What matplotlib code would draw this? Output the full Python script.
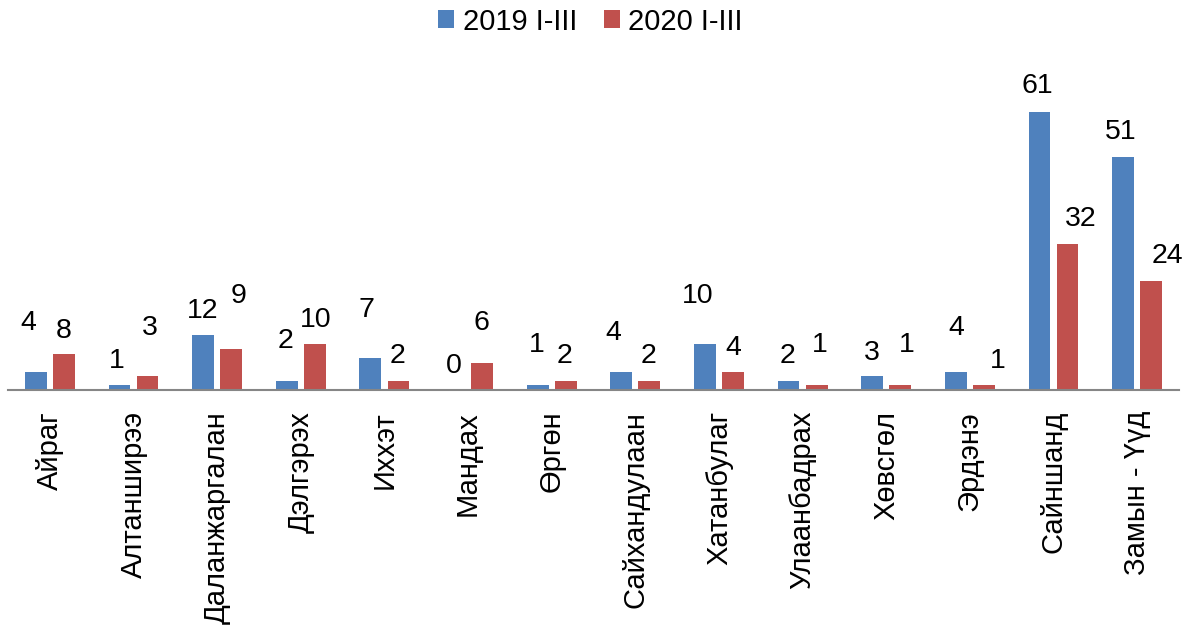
import matplotlib
matplotlib.use("Agg")
import matplotlib.pyplot as plt
import numpy as np

categories = ["Айраг", "Алтанширээ", "Даланжаргалан", "Дэлгэрэх", "Иххэт", "Мандах",
              "Өргөн", "Сайхандулаан", "Хатанбулаг", "Улаанбадрах", "Хөвсгөл", "Эрдэнэ",
              "Сайншанд", "Замын - Үүд"]
series_names = ["2019 I-III", "2020 I-III"]
values_2019 = [4, 1, 12, 2, 7, 0, 1, 4, 10, 2, 3, 4, 61, 51]
values_2020 = [8, 3, 9, 10, 2, 6, 2, 2, 4, 1, 1, 1, 32, 24]

# label offsets (pixels) relative to bar top centre, as placed in the original
dx_2019 = [-7, -3, 0, -1, -4, 0, -1, -8, -7, -1, 0, 0, -2, -2]
dy_2019 = [42, 17, 17, 33, 41, 17, 33, 32, 41, 18, 16, 37, 19, 18]
dx_2020 = [0, 2, 7, 1, -1, -1, -1, -1, 0, 3, 6, 14, 13, 16]
dy_2020 = [16, 41, 46, 17, 18, 33, 18, 18, 17, 33, 33, 17, 18, 18]

plt.rcParams['font.family'] = ['Liberation Sans', 'DejaVu Sans']

W, H = 1198, 625
fig = plt.figure(figsize=(W / 100, H / 100), dpi=100)
left_px, right_px, base_px, top_px = 8, 1179, 390, 60
ax = fig.add_axes([left_px / W, 1 - base_px / H, (right_px - left_px) / W, (base_px - top_px) / H])

px_per_unit = 4.56
ax.set_ylim(0, (base_px - top_px) / px_per_unit)
n = len(categories)
ax.set_xlim(-0.5, n - 0.5)

x = np.arange(n)
off = 0.168
bw = 0.26
c1, c2 = "#4F81BD", "#C0504D"
b1 = ax.bar(x - off, values_2019, bw, color=c1, label=series_names[0])
b2 = ax.bar(x + off, values_2020, bw, color=c2, label=series_names[1])

for i in range(n):
    ax.annotate(str(values_2019[i]), (x[i] - off, values_2019[i]),
                xytext=(dx_2019[i], dy_2019[i]), textcoords='offset pixels',
                ha='center', va='baseline', fontsize=20.5, color='black')
    ax.annotate(str(values_2020[i]), (x[i] + off, values_2020[i]),
                xytext=(dx_2020[i], dy_2020[i]), textcoords='offset pixels',
                ha='center', va='baseline', fontsize=20.5, color='black')

for s in ['top', 'right', 'left']:
    ax.spines[s].set_visible(False)
ax.spines['bottom'].set_color('#868686')
ax.spines['bottom'].set_linewidth(1.5)
ax.set_yticks([])
ax.set_xticks(x)
ax.set_xticklabels(categories, rotation=90, fontsize=21, ha='center', va='top')
ax.tick_params(axis='x', length=0, pad=15)

fig.legend(handles=[b1, b2], loc='upper center', bbox_to_anchor=(0.493, 1.03), ncol=2,
           frameon=False, fontsize=21, handlelength=0.55, handleheight=0.55,
           handletextpad=0.3, columnspacing=0.9)

fig.savefig("out.png", dpi=100)
